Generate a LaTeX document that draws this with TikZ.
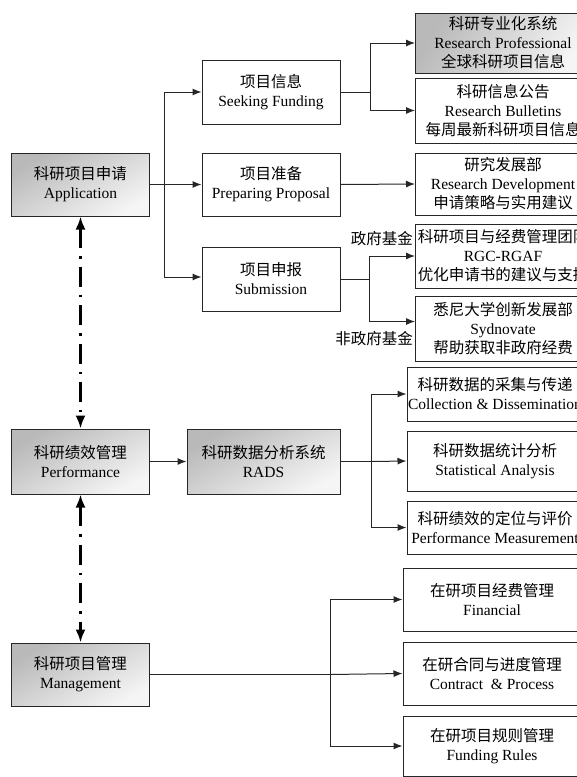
\documentclass[tikz,border=0pt]{standalone}
\usepackage{fontspec}
\setmainfont{Liberation Serif}
\newfontfamily\cjk{Noto Sans CJK SC}
\usetikzlibrary{arrows.meta}
\newcommand{\zh}[1]{{\cjk #1}}

\begin{document}
\begin{tikzpicture}[x=1pt, y=-1pt,
    every node/.style={font=\fontsize{15.5}{19}\selectfont},
    box/.style={draw=black!85, line width=1pt, align=center, inner sep=0pt,
        minimum width=138pt, minimum height=63pt},
    grey/.style={box, top color=gray!55, bottom color=gray!8, shading angle=30},
    rbox/.style={box, minimum width=175pt},
    line/.style={draw=black!85, line width=1pt},
    arr/.style={line, -{Latex[length=9pt,width=7pt]}},
    link/.style={line width=2.4pt, dash pattern=on 20pt off 8pt on 2.4pt off 8pt,
        {Latex[length=13pt,width=10pt]}-{Latex[length=13pt,width=10pt]}}]

    \useasboundingbox (0,0) rectangle (577,777);
    \clip (0,0) rectangle (577,777);

    % left column
    \node[grey] (app) at (80.5,184.5) {\zh{科研项目申请}\\Application};
    \node[grey, minimum height=65pt] (perf) at (80.5,461.5) {\zh{科研绩效管理}\\Performance};
    \node[grey] (mgmt) at (80.5,674.5) {\zh{科研项目管理}\\Management};

    % middle column
    \node[box, minimum height=64pt] (seek) at (271,92) {\zh{项目信息}\\Seeking Funding};
    \node[box] (prep) at (271,184.5) {\zh{项目准备}\\Preparing Proposal};
    \node[box, minimum height=64pt] (subm) at (271,279) {\zh{项目申报}\\Submission};
    \node[grey, minimum width=153pt, minimum height=65pt] (rads) at (263.5,461.5) {\zh{科研数据分析系统}\\RADS};

    % right column
    \node[grey, minimum width=175pt, minimum height=60pt, shading angle=60] (rp) at (503,43)
        {\zh{科研专业化系统}\\Research Professional\\\zh{全球科研项目信息}};
    \node[rbox, minimum height=65pt] (rb) at (503,110.5)
        {\zh{科研信息公告}\\Research Bulletins\\\zh{每周最新科研项目信息}};
    \node[rbox, minimum height=62pt] (rd) at (503,184)
        {\zh{研究发展部}\\Research Development\\\zh{申请策略与实用建议}};
    \node[rbox, minimum height=64pt] (rgc) at (503,256)
        {\zh{科研项目与经费管理团队}\\RGC-RGAF\\\zh{优化申请书的建议与支持}};
    \node[rbox, minimum height=65pt] (syd) at (503,328.5)
        {\zh{悉尼大学创新发展部}\\Sydnovate\\\zh{帮助获取非政府经费}};
    \node[rbox, minimum width=176pt, minimum height=54pt] (coll) at (495,394)
        {\zh{科研数据的采集与传递}\\Collection \& Dissemination};
    \node[rbox, minimum width=176pt, minimum height=60pt] (stat) at (495,461)
        {\zh{科研数据统计分析}\\Statistical Analysis};
    \node[rbox, minimum width=176pt, minimum height=53pt] (pm) at (495,527.5)
        {\zh{科研绩效的定位与评价}\\Performance Measurement};
    \node[rbox, minimum width=178pt] (fin) at (492,599.5)
        {\zh{在研项目经费管理}\\Financial};
    \node[rbox, minimum width=178pt] (con) at (492,673.5)
        {\zh{在研合同与进度管理}\\Contract~~\& Process};
    \node[rbox, minimum width=178pt, minimum height=60pt] (rule) at (492,746)
        {\zh{在研项目规则管理}\\Funding Rules};

    \node[anchor=east, inner sep=1pt] (gov) at (414,239) {\zh{政府基金}};
    \node[anchor=east, inner sep=1pt] (ngov) at (414,339) {\zh{非政府基金}};

    % forks
    \coordinate (forkA) at (164,184.5);
    \coordinate (forkS) at (370,92);
    \coordinate (forkB) at (369,279);
    \coordinate (forkR) at (371,461.5);
    \coordinate (forkM) at (330,674.5);

    \draw[line] (app.east) -- (forkA);
    \draw[arr] (forkA) -- (prep.west);
    \draw[arr] (forkA) |- (seek.west);
    \draw[arr] (forkA) |- ([yshift=2pt]subm.west);

    \draw[line] (seek.east) -- (forkS);
    \draw[arr] (forkS) |- (rp.west);
    \draw[arr] (forkS) |- (rb.west);
    \draw[arr] (prep.east) -- (rd.west);

    \draw[line] (subm.east) -- (forkB);
    \draw[arr] (forkB) |- (rgc.west);
    \draw[arr] (forkB) |- ([yshift=7pt]syd.west);

    \draw[arr] (perf.east) -- (rads.west);
    \draw[line] (rads.east) -- (forkR);
    \draw[arr] (forkR) -- (stat.west);
    \draw[arr] (forkR) |- (coll.west);
    \draw[arr] (forkR) |- (pm.west);

    \draw[line] (mgmt.east) -- (forkM);
    \draw[arr] (forkM) -- (con.west);
    \draw[arr] (forkM) |- (fin.west);
    \draw[arr] (forkM) |- (rule.west);

    % dash-dot links
    \draw[link] (app.south) -- (perf.north);
    \draw[link] (perf.south) -- (mgmt.north);
\end{tikzpicture}
\end{document}
